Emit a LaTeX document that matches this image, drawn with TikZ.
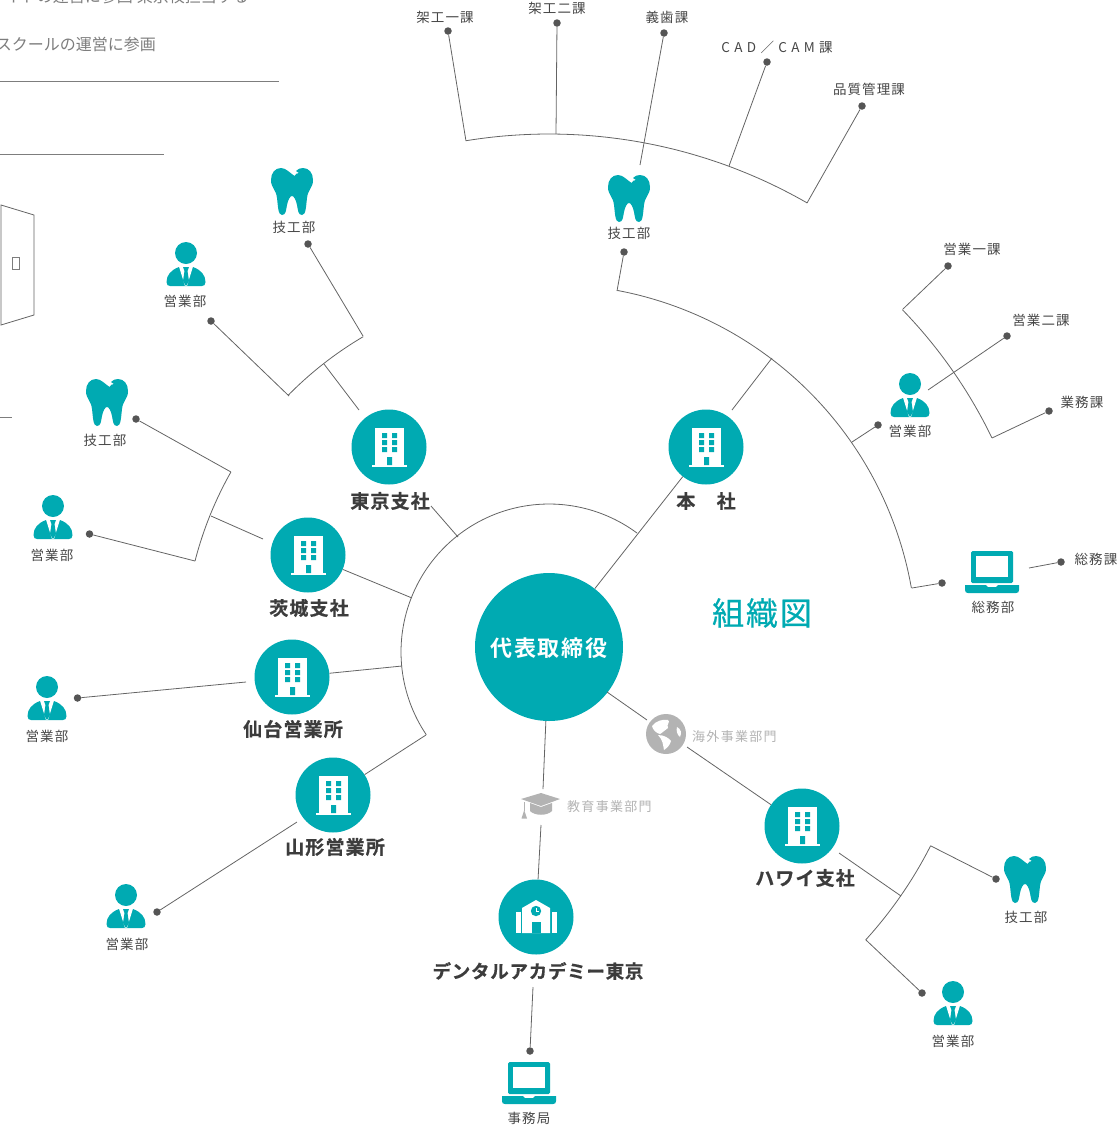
\documentclass[tikz,border=0pt]{standalone}
\usepackage{fontspec}
\newfontfamily\jp[LetterSpace=8]{Noto Sans CJK JP}
\newfontfamily\jps[LetterSpace=10]{Noto Sans CJK JP}
\newfontfamily\jpw[LetterSpace=32]{Noto Sans CJK JP}
\newfontfamily\jpn{Noto Sans CJK JP}
\newfontfamily\jpt[LetterSpace=6,FakeBold=0.5]{Noto Sans CJK JP}
\newfontfamily\jpb[LetterSpace=6,FakeBold=0.6]{Noto Sans CJK JP Bold}
\newfontfamily\jpd[LetterSpace=4,FakeBold=0.6]{Noto Sans CJK JP Bold}
\newfontfamily\jpc[LetterSpace=7]{Noto Sans CJK JP Bold}
\definecolor{teal0}{RGB}{0,170,178}
\definecolor{line0}{RGB}{100,100,100}
\definecolor{dot0}{RGB}{85,85,85}
\definecolor{ink0}{RGB}{70,70,70}
\definecolor{bold0}{RGB}{60,60,60}
\definecolor{grey0}{RGB}{179,179,179}
\definecolor{note0}{RGB}{125,125,125}
\newcommand{\radarc}[3]{plot[domain=#2:#3,samples=48,smooth] ({549+#1*cos(\x)},{652+#1*sin(\x)})}
\tikzset{
  x=1pt,y=-1pt,
  conn/.style={draw=line0,line width=0.8pt},
  rule0/.style={draw=note0,line width=0.8pt},
  hub/.style={circle,fill=teal0,minimum size=75pt,inner sep=0pt},
  dotn/.style={circle,fill=dot0,minimum size=7.5pt,inner sep=0pt},
  sm/.style={text=ink0,font=\jp\fontsize{13.5}{13.5}\selectfont,inner sep=0pt},
  wide0/.style={text=ink0,font=\jpw\fontsize{13.5}{13.5}\selectfont,inner sep=0pt},
  big0/.style={text=bold0,font=\jpb\fontsize{19}{19}\selectfont,inner sep=0pt},
  soft0/.style={text=grey0,font=\jps\fontsize{13}{13}\selectfont,inner sep=0pt},
  note1/.style={text=note0,font=\jpn\fontsize{16}{16}\selectfont,inner sep=0pt},
  tooth0/.pic={
    \fill[teal0] (2.5,8) .. controls (-2,5) and (-6,0) .. (-11,0)
      .. controls (-17,0) and (-21,5) .. (-21,12)
      .. controls (-21,20) and (-16,21) .. (-15,30)
      .. controls (-14,38) and (-14,47) .. (-10,47)
      .. controls (-6,47) and (-6,42) .. (-5,37)
      .. controls (-4,32) and (-2,28) .. (0,28)
      .. controls (2,28) and (4,32) .. (5,37)
      .. controls (6,42) and (6,47) .. (10,47)
      .. controls (14,47) and (14,38) .. (15,30)
      .. controls (16,21) and (21,20) .. (21,12)
      .. controls (21,5) and (17,0) .. (11,0)
      .. controls (8,0) and (6,1) .. (4,3)
      .. controls (5,4) and (6,4.5) .. (7,5)
      .. controls (5,5) and (3.5,6) .. (2.5,8) -- cycle;
  },
  person0/.pic={
    \fill[teal0] (0,11) circle (11);
    \fill[teal0] (-19.5,40) .. controls (-19.5,33) and (-15,28) .. (-7,25)
      -- (7,25) .. controls (15,28) and (19.5,33) .. (19.5,40)
      .. controls (19.5,43) and (18,44) .. (16,44) -- (-16,44)
      .. controls (-18,44) and (-19.5,43) .. (-19.5,40) -- cycle;
    \fill[white] (-7,24.5) -- (7,24.5) -- (1,44) -- (-1,44) -- cycle;
    \fill[teal0] (-3,25) -- (3,25) -- (1.5,29) -- (3,39) -- (0,44) -- (-3,39) -- (-1.5,29) -- cycle;
  },
  laptop0/.pic={
    \fill[teal0,rounded corners=1.5pt] (-21,0) rectangle (21,32);
    \fill[white] (-16,5) rectangle (16,26);
    \fill[teal0] (-27,34) -- (-6,34) -- (-4,36) -- (4,36) -- (6,34) -- (27,34) -- (27,39) .. controls (27,41) and (26,42) .. (24,42) -- (-24,42) .. controls (-26,42) and (-27,41) .. (-27,39) -- cycle;
  },
  office0/.pic={
    \fill[white] (-14,-19) rectangle (15,18);
    \fill[white] (-17,18) rectangle (18,20);
    \fill[teal0] (-7,-14) rectangle (-2,-9) (3,-14) rectangle (8,-9)
      (-7,-7) rectangle (-2,-2) (3,-7) rectangle (8,-2)
      (-7,0) rectangle (-2,5) (3,0) rectangle (8,5)
      (-2,10) rectangle (3,18);
  },
  school0/.pic={
    \fill[white] (-20.5,-5) rectangle (-15.5,16);
    \fill[white] (15.5,-5) rectangle (20.5,16);
    \fill[white] (-14,16) -- (-14,-9) -- (0,-17) -- (14,-9) -- (14,16) -- cycle;
    \fill[teal0] (-4.5,5) rectangle (4.5,16);
    \fill[teal0] (0,-6) circle (5.2);
    \draw[white,line width=0.8pt] (0,-9) -- (0,-6) -- (2.5,-6);
  }
}
\begin{document}
\begin{tikzpicture}
\useasboundingbox (0,0) rectangle (1119,1128);
\clip (0,0) rectangle (1119,1128);
% text fragments and rules at the left edge
\node[note1,anchor=east] (noteA) at (249,-4) {サイトの運営に参画\hspace{4pt}東京校担当する};
\node[note1,anchor=east] (noteB) at (156,44) {スクールの運営に参画};
\coordinate (ra) at (0,81); \coordinate (rb) at (279,81);
\coordinate (rc) at (0,154); \coordinate (rd) at (164,154);
\coordinate (re) at (0,417); \coordinate (rf) at (12,417);
\draw[rule0] (ra) -- (rb);
\draw[rule0] (rc) -- (rd);
\draw[rule0] (re) -- (rf);
\draw[line0,line width=0.8pt] (1,205) -- (34,215) -- (34,315) -- (1,325) -- cycle;
\draw[note0,line width=0.7pt] (12.5,257) rectangle (19,269);

% main circles
\node[circle,fill=teal0,minimum size=148pt,inner sep=0pt] (ceo) at (549,647) {};
\node[text=white,font=\jpc\fontsize{22}{22}\selectfont,inner sep=0pt] (lceo) at (549,648) {代表取締役};
\node[hub] (honsha) at (706,447) {};
\node[hub] (tokyo) at (389,447) {};
\node[hub] (ibaraki) at (308,555) {};
\node[hub] (sendai) at (292,677) {};
\node[hub] (yamagata) at (333,795) {};
\node[hub] (hawaii) at (802,826) {};
\node[hub] (academy) at (536,917) {};
\pic at (honsha) {office0};
\pic at (tokyo) {office0};
\pic at (ibaraki) {office0};
\pic at (sendai) {office0};
\pic at (yamagata) {office0};
\pic at (hawaii) {office0};
\pic at (academy) {school0};

% bold labels
\node[big0] (lhonsha) at (706,501) {本　社};
\node[big0] (ltokyo) at (390,501) {東京支社};
\node[big0] (libaraki) at (309,608) {茨城支社};
\node[big0] (lsendai) at (293,729) {仙台営業所};
\node[big0] (lyamagata) at (335,847) {山形営業所};
\node[big0] (lhawaii) at (805,878) {ハワイ支社};
\node[big0,font=\jpd\fontsize{18.5}{19}\selectfont] (lacademy) at (538,971) {デンタルアカデミー東京};
\node[text=teal0,font=\jpt\fontsize{32}{32}\selectfont,inner sep=0pt] (title) at (762,613) {組織図};

% icons
\pic at (292,168) {tooth0};
\pic at (629,175) {tooth0};
\pic at (107,379) {tooth0};
\pic at (1025,856) {tooth0};
\pic at (186,242) {person0};
\pic at (910,373) {person0};
\pic at (53,495) {person0};
\pic at (47,676) {person0};
\pic at (126,884) {person0};
\pic at (953,981) {person0};
\pic at (992,551) {laptop0};
\pic at (529,1062) {laptop0};

% small labels
\node[sm] (t1) at (445,17.3) {架工一課};
\node[sm] (t2) at (557,8.3) {架工二課};
\node[sm] (t3) at (667,17.3) {義歯課};
\node[wide0] (t4) at (777,47.3) {CAD／CAM課};
\node[sm] (t5) at (869,89.3) {品質管理課};
\node[sm] (t6) at (629,233.3) {技工部};
\node[sm] (t7) at (972,249.3) {営業一課};
\node[sm] (t8) at (1041,320.3) {営業二課};
\node[sm] (t9) at (1082,402.3) {業務課};
\node[sm] (t10) at (910,431.3) {営業部};
\node[sm] (t11) at (993,607.3) {総務部};
\node[sm] (t12) at (1096,559.3) {総務課};
\node[sm] (t13) at (294,227.3) {技工部};
\node[sm] (t14) at (185,301.3) {営業部};
\node[sm] (t15) at (105,440.3) {技工部};
\node[sm] (t16) at (52,555.3) {営業部};
\node[sm] (t17) at (47,736.3) {営業部};
\node[sm] (t18) at (127,944.3) {営業部};
\node[sm] (t19) at (1026,917.3) {技工部};
\node[sm] (t20) at (953,1041.3) {営業部};
\node[sm] (t21) at (529,1118.3) {事務局};

% division markers
\node[circle,fill=grey0,minimum size=40pt,inner sep=0pt] (globe) at (666,734) {};
\fill[white] (652,726) .. controls (656,721) and (662,719) .. (668,720)
  .. controls (671,722) and (666,724) .. (668,728)
  .. controls (665,730) and (662,733) .. (660,734)
  .. controls (656,733) and (653,730) .. (652,726) -- cycle;
\fill[white] (658,735) .. controls (664,735) and (669,738) .. (671,741)
  .. controls (670,745) and (667,748) .. (664,750)
  .. controls (663,745) and (663,740) .. (658,735) -- cycle;
\fill[white] (677,727) .. controls (681,729) and (682,733) .. (680,737)
  .. controls (677,735) and (676,730) .. (677,727) -- cycle;
\node[soft0,anchor=west] (ldivA) at (692,737) {海外事業部門};
\fill[grey0] (530,803) -- (541,807) -- (552,803) -- (552,811) .. controls (547,816) and (535,816) .. (530,811) -- cycle;
\fill[grey0] (521,799) -- (541,793) -- (560,799) -- (541,806) -- cycle;
\fill[grey0] (523.5,802) rectangle (525,811);
\fill[grey0] (524.2,810) -- (527,818.5) -- (521.5,818.5) -- cycle;
\node[soft0,anchor=west] (ldivB) at (567,807) {教育事業部門};

% dots
\node[dotn] (d1) at (448,31) {};
\node[dotn] (d2) at (557,23) {};
\node[dotn] (d3) at (664,33) {};
\node[dotn] (d4) at (767,62) {};
\node[dotn] (d5) at (862,106) {};
\node[dotn] (d6) at (624,252) {};
\node[dotn] (d7) at (948,266) {};
\node[dotn] (d8) at (1007,336) {};
\node[dotn] (d9) at (1049,411) {};
\node[dotn] (d10) at (878,425) {};
\node[dotn] (d11) at (942,583) {};
\node[dotn] (d12) at (1061,562) {};
\node[dotn] (d13) at (308,244) {};
\node[dotn] (d14) at (211,321) {};
\node[dotn] (d15) at (136,419) {};
\node[dotn] (d16) at (89.5,534) {};
\node[dotn] (d17) at (77.5,698) {};
\node[dotn] (d18) at (157,912) {};
\node[dotn] (d19) at (996,879) {};
\node[dotn] (d20) at (922,993) {};
\node[dotn] (d21) at (530,1051) {};

% junction points
\coordinate (j1) at (466,141); \coordinate (j2) at (556,134);
\coordinate (j3) at (640,165); \coordinate (j4) at (729,166);
\coordinate (j5) at (807,203); \coordinate (j6) at (617,291);
\coordinate (j7) at (903,309); \coordinate (j8) at (928,390);
\coordinate (j9) at (992,438); \coordinate (j10) at (852,442);
\coordinate (j11) at (912,588); \coordinate (j12) at (1029,568);
\coordinate (j13) at (732,410); \coordinate (j14) at (772,358);
\coordinate (j15) at (363,336); \coordinate (j16) at (289,396);
\coordinate (j17) at (324,364); \coordinate (j18) at (359,410);
\coordinate (j19) at (231,472); \coordinate (j20) at (195,561);
\coordinate (j21) at (211,516); \coordinate (j22) at (263,539);
\coordinate (j23) at (458,537); \coordinate (j24) at (431,506);
\coordinate (j25) at (412,598); \coordinate (j26) at (402,666);
\coordinate (j27) at (426,735); \coordinate (j28) at (246,682);
\coordinate (j29) at (297,822); \coordinate (j30) at (931,846);
\coordinate (j31) at (866,940); \coordinate (j32) at (901,896);
\coordinate (j33) at (839,853); \coordinate (j34) at (647,720);
\coordinate (j35) at (687,747); \coordinate (j36) at (543,789);
\coordinate (j37) at (541,825); \coordinate (j38) at (533,987);
\coordinate (j39) at (607,692);

% arcs about the centre
\draw[conn] \radarc{148}{-53.5}{-214};
\draw[conn] \radarc{368}{-79.3}{-10};
\draw[conn] \radarc{518}{-99.2}{-60.1};
\draw[conn] \radarc{492}{-44.1}{-25.8};
\draw[conn] \radarc{366}{-120.5}{-135.4};
\draw[conn] \radarc{365.5}{-150.5}{-165.6};
\draw[conn] \radarc{428}{26.9}{42.3};

% connectors
\draw[conn] (d1) -- (j1);
\draw[conn] (d2) -- (j2);
\draw[conn] (d3) -- (j3);
\draw[conn] (d4) -- (j4);
\draw[conn] (d5) -- (j5);
\draw[conn] (d6) -- (j6);
\draw[conn] (d7) -- (j7);
\draw[conn] (d8) -- (j8);
\draw[conn] (d9) -- (j9);
\draw[conn] (d10) -- (j10);
\draw[conn] (d11) -- (j11);
\draw[conn] (d12) -- (j12);
\draw[conn] (ceo) -- (honsha);
\draw[conn] (j13) -- (j14);
\draw[conn] (d13) -- (j15);
\draw[conn] (d14) -- (j16);
\draw[conn] (j17) -- (j18);
\draw[conn] (d15) -- (j19);
\draw[conn] (d16) -- (j20);
\draw[conn] (j21) -- (j22);
\draw[conn] (j23) -- (j24);
\draw[conn] (j25) -- (ibaraki);
\draw[conn] (j26) -- (sendai);
\draw[conn] (j27) -- (yamagata);
\draw[conn] (d17) -- (j28);
\draw[conn] (d18) -- (j29);
\draw[conn] (d19) -- (j30);
\draw[conn] (d20) -- (j31);
\draw[conn] (j32) -- (j33);
\draw[conn] (j39) -- (j34);
\draw[conn] (j35) -- (hawaii);
\draw[conn] (ceo) -- (j36);
\draw[conn] (j37) -- (academy);
\draw[conn] (j38) -- (d21);
\end{tikzpicture}
\end{document}
